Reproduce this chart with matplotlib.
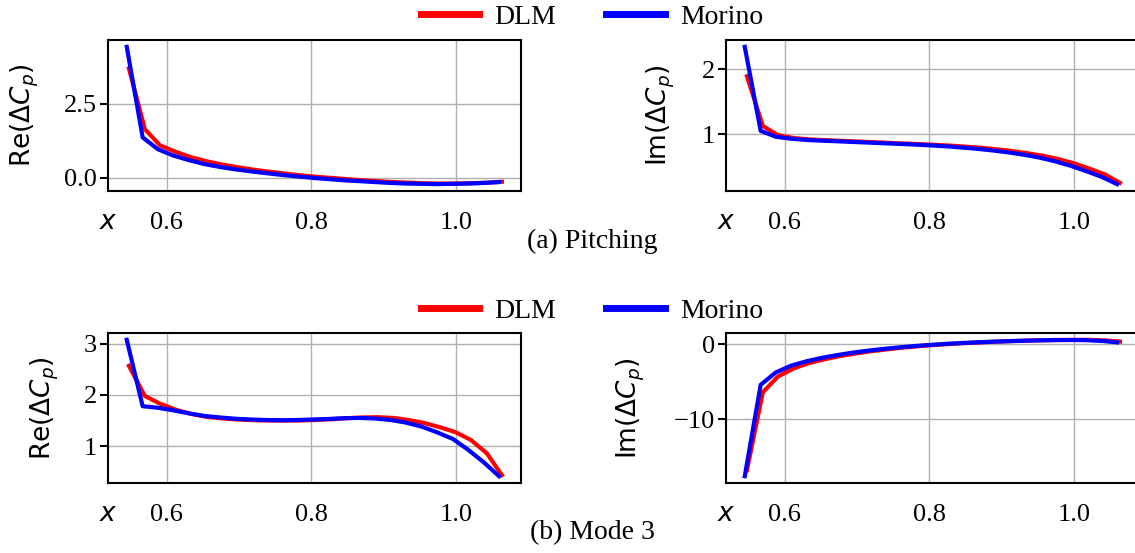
import matplotlib
matplotlib.use("Agg")
import matplotlib.pyplot as plt

# chordwise stations
X_DLM = [0.548, 0.570, 0.591, 0.613, 0.634, 0.656, 0.677, 0.699, 0.720, 0.742,
         0.763, 0.785, 0.806, 0.828, 0.849, 0.871, 0.892, 0.914, 0.935, 0.957,
         0.978, 1.000, 1.021, 1.043, 1.064]
X_MORINO = [0.545, 0.567, 0.588, 0.609, 0.631, 0.652, 0.674, 0.695, 0.717, 0.738,
            0.760, 0.781, 0.803, 0.824, 0.845, 0.867, 0.888, 0.910, 0.931, 0.953,
            0.974, 0.996, 1.017, 1.039, 1.060]

# (a) pitching
RE_PITCH_DLM = [3.70, 1.65, 1.10, 0.88, 0.70, 0.56, 0.45, 0.36, 0.28, 0.21,
                0.15, 0.09, 0.04, 0.00, -0.04, -0.08, -0.11, -0.14, -0.16, -0.18,
                -0.19, -0.19, -0.18, -0.16, -0.13]
RE_PITCH_MORINO = [4.43, 1.37, 0.97, 0.76, 0.60, 0.47, 0.37, 0.29, 0.22, 0.16,
                   0.10, 0.05, 0.00, -0.04, -0.08, -0.11, -0.14, -0.17, -0.19, -0.20,
                   -0.21, -0.20, -0.19, -0.17, -0.14]
IM_PITCH_DLM = [1.89, 1.13, 0.99, 0.945, 0.925, 0.913, 0.903, 0.893, 0.883, 0.873,
                0.863, 0.853, 0.842, 0.830, 0.815, 0.797, 0.775, 0.748, 0.715, 0.675,
                0.625, 0.560, 0.480, 0.390, 0.260]
IM_PITCH_MORINO = [2.34, 1.055, 0.965, 0.935, 0.915, 0.905, 0.895, 0.885, 0.875, 0.865,
                   0.855, 0.845, 0.832, 0.818, 0.800, 0.780, 0.755, 0.725, 0.690, 0.645,
                   0.590, 0.520, 0.440, 0.350, 0.240]

# (b) mode 3
RE_MODE3_DLM = [2.57, 1.98, 1.83, 1.71, 1.63, 1.57, 1.54, 1.52, 1.505, 1.50,
                1.50, 1.50, 1.51, 1.525, 1.545, 1.56, 1.565, 1.55, 1.51, 1.45,
                1.37, 1.27, 1.12, 0.86, 0.43]
RE_MODE3_MORINO = [3.08, 1.78, 1.75, 1.70, 1.64, 1.59, 1.56, 1.535, 1.52, 1.51,
                   1.505, 1.51, 1.52, 1.53, 1.545, 1.55, 1.54, 1.51, 1.46, 1.38,
                   1.27, 1.14, 0.93, 0.68, 0.41]
IM_MODE3_DLM = [-16.8, -6.4, -4.3, -3.2, -2.5, -1.98, -1.57, -1.22, -0.92, -0.67,
                -0.45, -0.26, -0.10, 0.04, 0.16, 0.26, 0.35, 0.43, 0.49, 0.54,
                0.58, 0.60, 0.60, 0.52, 0.36]
IM_MODE3_MORINO = [-17.6, -5.4, -3.75, -2.85, -2.25, -1.80, -1.42, -1.10, -0.83, -0.60,
                   -0.40, -0.22, -0.07, 0.06, 0.17, 0.27, 0.35, 0.42, 0.48, 0.53,
                   0.56, 0.57, 0.55, 0.45, 0.26]

XTICKS = [0.6, 0.8, 1.0]
SERIF = "Liberation Serif"

plt.rcParams["mathtext.fontset"] = "dejavusans"

fig = plt.figure(figsize=(11.35, 5.53), dpi=100)

W, H = 1135, 553
def make_axes(left_px, top_px, bottom_px):
    width_px = 412.7
    return fig.add_axes([left_px / W, 1 - bottom_px / H, width_px / W, (bottom_px - top_px) / H])

panels = [
    (make_axes(108, 40, 191), RE_PITCH_DLM, RE_PITCH_MORINO, r"$\mathrm{Re}(\Delta C_p)$", [0.0, 2.5], ["0.0", "2.5"], -0.162),
    (make_axes(726, 40, 191), IM_PITCH_DLM, IM_PITCH_MORINO, r"$\mathrm{Im}(\Delta C_p)$", [1, 2], ["1", "2"], -0.118),
    (make_axes(108, 333, 483), RE_MODE3_DLM, RE_MODE3_MORINO, r"$\mathrm{Re}(\Delta C_p)$", [1, 2, 3], ["1", "2", "3"], -0.114),
    (make_axes(726, 333, 483), IM_MODE3_DLM, IM_MODE3_MORINO, r"$\mathrm{Im}(\Delta C_p)$", [-10, 0], ["\u221210", "0"], -0.191),
]

for ax, dlm, morino, ylabel, yticks, ylabels, ylab_x in panels:
    ax.plot(X_DLM, dlm, color="red", lw=3, label="DLM")
    ax.plot(X_MORINO, morino, color="blue", lw=3, label="Morino")
    ax.grid(True, color="#b0b0b0", lw=1.0)
    ax.set_axisbelow(True)
    for s in ax.spines.values():
        s.set_linewidth(1.5)
    ax.set_xticks(XTICKS)
    ax.set_xticklabels(["0.6", "0.8", "1.0"], fontfamily=SERIF, fontsize=19)
    ax.set_yticks(yticks)
    ax.set_yticklabels(ylabels, fontfamily=SERIF, fontsize=19)
    ax.tick_params(axis="x", length=0, pad=15)
    ax.tick_params(axis="y", length=6, width=1.5, pad=2)
    ax.set_ylabel(ylabel, fontsize=19)
    ax.yaxis.set_label_coords(ylab_x, 0.5)
    ax.text(0.0, -0.205, r"$x$", transform=ax.transAxes, fontsize=19, ha="center", va="center")

h, l = panels[0][0].get_legend_handles_labels()
for y in (0.969, 0.437):
    leg = fig.legend(h, l, loc="center", bbox_to_anchor=(0.5216, y), ncol=2, frameon=False,
                     prop={"family": SERIF, "size": 20}, handlelength=2.1,
                     handletextpad=0.55, columnspacing=1.8)
    for line in leg.get_lines():
        line.set_linewidth(5)

fig.text(0.5216, 0.564, "(a) Pitching", ha="center", va="center", fontfamily=SERIF, fontsize=20)
fig.text(0.5216, 0.036, "(b) Mode 3", ha="center", va="center", fontfamily=SERIF, fontsize=20)

fig.savefig("out.png", dpi=100)
